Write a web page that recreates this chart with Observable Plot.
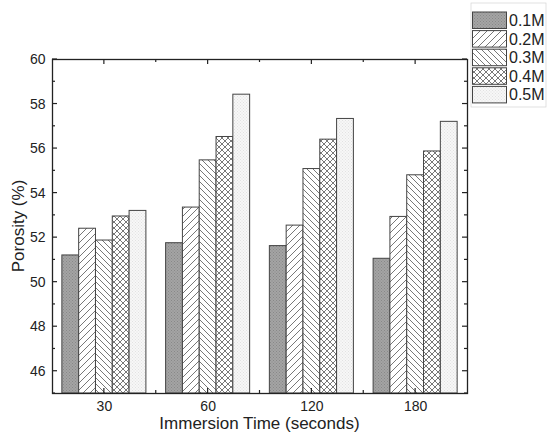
<!DOCTYPE html>
<html>
<head>
<meta charset="utf-8">
<script src="https://cdn.jsdelivr.net/npm/d3@7"></script>
<script src="https://cdn.jsdelivr.net/npm/@observablehq/plot@0.6"></script>
<style>
  html, body { margin: 0; padding: 0; background: #fff; }
  #chart { width: 547px; height: 443px; }
</style>
</head>
<body>
<div id="chart"></div>
<script>
(function () {
// ---- data ----
const times = ["30", "60", "120", "180"];
const concentrations = ["0.1M", "0.2M", "0.3M", "0.4M", "0.5M"];
const porosity01 = [51.2, 51.75, 51.62, 51.05];
const porosity02 = [52.4, 53.35, 52.54, 52.93];
const porosity03 = [51.87, 55.47, 55.08, 54.8];
const porosity04 = [52.95, 56.52, 56.4, 55.87];
const porosity05 = [53.2, 58.42, 57.33, 57.2];
const yTicks = [46, 48, 50, 52, 54, 56, 58, 60];
const xAxisTitle = "Immersion Time (seconds)";
const yAxisTitle = "Porosity (%)";

const seriesValues = [porosity01, porosity02, porosity03, porosity04, porosity05];
const patternIds = ["pat01", "pat02", "pat03", "pat04", "pat05"];

// table built from arrays
const groupWidth = 0.81;
const barW = groupWidth / concentrations.length;
const table = [];
times.forEach((t, gi) => {
  concentrations.forEach((c, si) => {
    const x1 = gi - groupWidth / 2 + si * barW;
    table.push({time: t, conc: c, gi, si, x1, x2: x1 + barW, value: seriesValues[si][gi]});
  });
});

const chart = Plot.plot({
  width: 547,
  height: 443,
  marginLeft: 52,
  marginRight: 80,
  marginTop: 59,
  marginBottom: 50,
  style: {fontFamily: "'Liberation Sans', Arial, sans-serif", fontSize: "14px", background: "#fff", color: "#222"},
  x: {type: "linear", domain: [-0.5, 3.5], ticks: [0, 1, 2, 3], tickFormat: i => times[i], tickSize: 0, tickPadding: 8, label: null},
  y: {domain: [45, 60], ticks: yTicks, tickSize: 0, tickPadding: 7, label: null},
  color: {type: "ordinal", domain: concentrations, range: patternIds.map(id => `url(#${id})`)},
  marks: [
    Plot.rectY(table, {x1: "x1", x2: "x2", y1: 45, y2: "value", fill: "conc", stroke: "#444", strokeWidth: 1}),
    Plot.frame({stroke: "#222", strokeWidth: 1.3})
  ]
});
document.getElementById("chart").appendChild(chart);

// ---- patterns, ticks, titles, legend via d3 ----
const svg = d3.select(chart);
const defs = svg.insert("defs", ":first-child");

function stipple(id, base, dot) {
  const p = defs.append("pattern").attr("id", id).attr("patternUnits", "userSpaceOnUse").attr("width", 3).attr("height", 3);
  p.append("rect").attr("width", 3).attr("height", 3).attr("fill", base);
  p.append("rect").attr("x", 0).attr("y", 0).attr("width", 1).attr("height", 1).attr("fill", dot);
  p.append("rect").attr("x", 1.5).attr("y", 1.5).attr("width", 1).attr("height", 1).attr("fill", dot);
}
stipple("pat01", "#a4a4a4", "#888");
stipple("pat05", "#f7f7f7", "#e2e2e2");
function hatch(id, s, d) {
  const p = defs.append("pattern").attr("id", id).attr("patternUnits", "userSpaceOnUse").attr("width", s).attr("height", s);
  p.append("rect").attr("width", s).attr("height", s).attr("fill", "#fff");
  p.append("path").attr("d", d).attr("stroke", "#555").attr("stroke-width", 0.8).attr("fill", "none");
}
hatch("pat02", 7, "M0,7L7,0M-1,1L1,-1M6,8L8,6");
hatch("pat03", 6, "M0,0L6,6M-1,5L1,7M5,-1L7,1");
hatch("pat04", 6, "M0,0L6,6M-1,5L1,7M5,-1L7,1M0,6L6,0M-1,1L1,-1M5,7L7,5");

const xs = chart.scale("x");
const ys = chart.scale("y");
const fLeft = 52, fRight = 467, fTop = 59, fBottom = 393;
const g = svg.append("g").attr("stroke", "#222").attr("stroke-width", 1.2);
const yMinor = d3.range(45, 60.01, 1);
yMinor.forEach(v => {
  const y = ys.apply(v);
  const len = (v % 2 === 0) ? 5 : 3;
  g.append("line").attr("x1", fLeft).attr("x2", fLeft + len).attr("y1", y).attr("y2", y);
  g.append("line").attr("x1", fRight).attr("x2", fRight - len).attr("y1", y).attr("y2", y);
});
const xMajor = [0, 1, 2, 3], xMinor = [0.5, 1.5, 2.5];
xMajor.forEach(v => {
  const x = xs.apply(v);
  g.append("line").attr("x1", x).attr("x2", x).attr("y1", fBottom).attr("y2", fBottom - 5);
  g.append("line").attr("x1", x).attr("x2", x).attr("y1", fTop).attr("y2", fTop + 5);
});
xMinor.forEach(v => {
  const x = xs.apply(v);
  g.append("line").attr("x1", x).attr("x2", x).attr("y1", fBottom).attr("y2", fBottom - 3);
  g.append("line").attr("x1", x).attr("x2", x).attr("y1", fTop).attr("y2", fTop + 3);
});

svg.append("text").attr("x", (fLeft + fRight) / 2).attr("y", 429).attr("text-anchor", "middle")
  .attr("font-size", 17).attr("fill", "#222").text(xAxisTitle);
svg.append("text").attr("transform", `translate(24,${(fTop + fBottom) / 2}) rotate(-90)`).attr("text-anchor", "middle")
  .attr("font-size", 17).attr("fill", "#222").text(yAxisTitle);

// legend
const lg = svg.append("g").attr("text-anchor", "start");
lg.append("rect").attr("x", 471).attr("y", 3).attr("width", 75).attr("height", 104)
  .attr("fill", "#fff").attr("stroke", "#d4d4d4").attr("stroke-width", 0.7);
concentrations.forEach((c, i) => {
  const y0 = 12 + i * 18.6;
  lg.append("rect").attr("x", 472.5).attr("y", y0).attr("width", 34).attr("height", 16.5)
    .attr("fill", `url(#${patternIds[i]})`).attr("stroke", "#444").attr("stroke-width", 1);
  lg.append("text").attr("x", 509).attr("y", y0 + 14).attr("text-anchor", "start")
    .attr("font-size", 16).attr("fill", "#222").text(c);
});
})();
</script>
</body>
</html>
